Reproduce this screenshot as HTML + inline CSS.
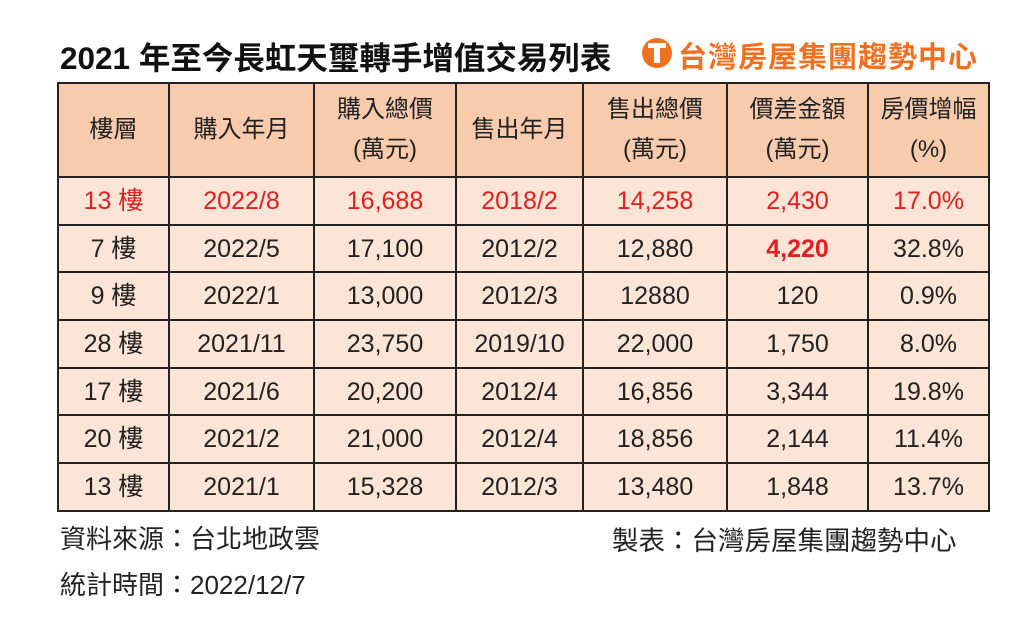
<!DOCTYPE html>
<html><head><meta charset="utf-8"><style>
body{margin:0;width:1024px;height:630px;background:#fff;position:relative;overflow:hidden;font-family:"Liberation Sans","Noto Sans CJK TC",sans-serif;color:#222}
.t{position:absolute;white-space:nowrap}
table{position:absolute;left:57px;top:82px;border-collapse:collapse;table-layout:fixed}
td{border:2px solid #222;text-align:center;font-size:25px;padding:0;line-height:30px}
tr.h td{background:#F8CBAD;height:92px;line-height:40px;font-size:24px}
tr.r td{background:#FCE4D6;height:45.7px}
tr.red td{color:#E02020}
.rb{color:#E02020;font-weight:bold}
</style></head><body>
<div class="t" style="left:60px;top:33px;font-size:31.5px;font-weight:bold;color:#111">2021 年至今長虹天璽轉手增值交易列表</div>
<div class="t" style="left:642px;top:38px;width:30px;height:30px;border-radius:50%;background:#F07020"></div>
<div class="t" style="left:648px;top:43px;width:18px;height:5px;background:#fff"></div>
<div class="t" style="left:654px;top:43px;width:6px;height:20px;background:#fff"></div>
<div class="t" style="left:678px;top:34px;font-size:29px;font-weight:bold;color:#F07020;letter-spacing:1px">台灣房屋集團趨勢中心</div>
<table>
<colgroup><col style="width:111px"><col style="width:145px"><col style="width:142px"><col style="width:127px"><col style="width:144px"><col style="width:141px"><col style="width:121px"></colgroup>
<tr class="h"><td>樓層</td><td>購入年月</td><td>購入總價<br>(萬元)</td><td>售出年月</td><td>售出總價<br>(萬元)</td><td>價差金額<br>(萬元)</td><td>房價增幅<br>(%)</td></tr>
<tr class="r red"><td>13 樓</td><td>2022/8</td><td>16,688</td><td>2018/2</td><td>14,258</td><td>2,430</td><td>17.0%</td></tr>
<tr class="r"><td>7 樓</td><td>2022/5</td><td>17,100</td><td>2012/2</td><td>12,880</td><td class="rb">4,220</td><td>32.8%</td></tr>
<tr class="r"><td>9 樓</td><td>2022/1</td><td>13,000</td><td>2012/3</td><td>12880</td><td>120</td><td>0.9%</td></tr>
<tr class="r"><td>28 樓</td><td>2021/11</td><td>23,750</td><td>2019/10</td><td>22,000</td><td>1,750</td><td>8.0%</td></tr>
<tr class="r"><td>17 樓</td><td>2021/6</td><td>20,200</td><td>2012/4</td><td>16,856</td><td>3,344</td><td>19.8%</td></tr>
<tr class="r"><td>20 樓</td><td>2021/2</td><td>21,000</td><td>2012/4</td><td>18,856</td><td>2,144</td><td>11.4%</td></tr>
<tr class="r"><td>13 樓</td><td>2021/1</td><td>15,328</td><td>2012/3</td><td>13,480</td><td>1,848</td><td>13.7%</td></tr>
</table>
<div class="t" style="left:60px;top:519px;font-size:26px">資料來源：台北地政雲</div>
<div class="t" style="left:612px;top:519px;font-size:26.5px">製表：台灣房屋集團趨勢中心</div>
<div class="t" style="left:60px;top:565px;font-size:26px">統計時間：2022/12/7</div>
</body></html>
